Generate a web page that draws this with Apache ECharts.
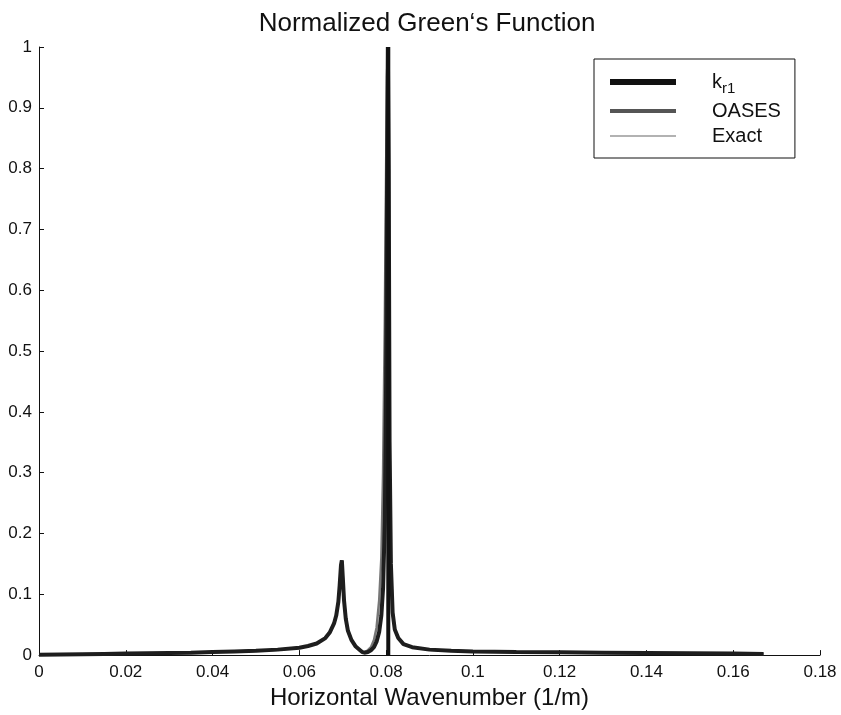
<!DOCTYPE html>
<html>
<head>
<meta charset="utf-8">
<script src="https://cdn.jsdelivr.net/npm/echarts@6/dist/echarts.min.js"></script>
<style>html,body{margin:0;padding:0;background:#fff}#c{width:841px;height:715px}</style>
</head>
<body>
<div id="c"></div>
<script>
// Horizontal wavenumber samples (1/m)
const wavenumber = [0, 0.005, 0.01, 0.015, 0.02, 0.025, 0.03, 0.035, 0.04, 0.045, 0.05, 0.055, 0.06, 0.062, 0.064, 0.066, 0.067, 0.068, 0.0685, 0.069, 0.0693, 0.0696, 0.0698, 0.0700, 0.0703, 0.0707, 0.0712, 0.072, 0.073, 0.074, 0.0745, 0.075, 0.0758, 0.0765, 0.0772, 0.0778, 0.0784, 0.0789, 0.0793, 0.0797, 0.0800, 0.0802, 0.0804, 0.0805, 0.0806, 0.0808, 0.0811, 0.0815, 0.082, 0.0828, 0.084, 0.086, 0.09, 0.095, 0.1, 0.11, 0.12, 0.13, 0.14, 0.15, 0.16, 0.167];
const oasesValues = [0.0005, 0.001, 0.0015, 0.002, 0.0025, 0.003, 0.0035, 0.004, 0.005, 0.006, 0.007, 0.009, 0.012, 0.015, 0.019, 0.028, 0.037, 0.052, 0.065, 0.088, 0.115, 0.148, 0.156, 0.13, 0.09, 0.06, 0.04, 0.025, 0.014, 0.008, 0.005, 0.004, 0.005, 0.008, 0.013, 0.022, 0.038, 0.065, 0.11, 0.22, 0.45, 0.75, 1.0, 1.0, 0.8, 0.35, 0.15, 0.07, 0.042, 0.028, 0.018, 0.013, 0.009, 0.007, 0.006, 0.005, 0.0045, 0.004, 0.0035, 0.003, 0.0025, 0.002];
const exactValues = [0.0005, 0.001, 0.0015, 0.002, 0.0025, 0.003, 0.0035, 0.004, 0.005, 0.006, 0.007, 0.009, 0.012, 0.015, 0.019, 0.028, 0.037, 0.052, 0.065, 0.088, 0.115, 0.148, 0.156, 0.13, 0.09, 0.06, 0.04, 0.025, 0.014, 0.008, 0.005, 0.005, 0.008, 0.013, 0.025, 0.045, 0.09, 0.16, 0.3, 0.55, 0.8, 0.95, 1.0, 1.0, 0.8, 0.35, 0.15, 0.07, 0.042, 0.028, 0.018, 0.013, 0.009, 0.007, 0.006, 0.005, 0.0045, 0.004, 0.0035, 0.003, 0.0025, 0.002];
// k_r1 vertical marker
const kr1X = [0.0805, 0.0805];
const kr1Y = [0, 1];
const xTicks = [0, 0.02, 0.04, 0.06, 0.08, 0.1, 0.12, 0.14, 0.16, 0.18];
const yTicks = [0, 0.1, 0.2, 0.3, 0.4, 0.5, 0.6, 0.7, 0.8, 0.9, 1];

const FONT = 'Liberation Sans, Arial, Helvetica, sans-serif';
const zip = (a, b) => a.map((v, i) => [v, b[i]]);
const fmt = v => String(+(+v).toFixed(3));

const chart = echarts.init(document.getElementById('c'), null, {renderer: 'canvas'});
chart.setOption({
  animation: false,
  backgroundColor: '#fff',
  title: {
    text: 'Normalized Green\u2018s Function',
    left: 422, top: 6, textAlign: 'center',
    textStyle: {fontFamily: FONT, fontSize: 26, fontWeight: 'normal', color: '#111'}
  },
  grid: {left: 39, right: 21, top: 47, bottom: 55, containLabel: false},
  legend: {
    orient: 'vertical',
    left: 594, top: 59,
    padding: [13, 14, 12, 13],
    borderColor: '#111', borderWidth: 1, backgroundColor: '#fff',
    itemWidth: 66, itemHeight: 20, itemGap: 5,
    textStyle: {fontFamily: FONT, fontSize: 20, color: '#111', width: 84, padding: [0, 0, 0, 31],
      rich: {sub: {fontFamily: FONT, fontSize: 15, color: '#111', padding: [13, 0, 0, 0]}}},
    formatter: name => name === 'k_r1' ? 'k{sub|r1}' : name,
    data: [
      {name: 'k_r1', itemStyle: {opacity: 0}, lineStyle: {color: '#111', width: 6}},
      {name: 'OASES', itemStyle: {opacity: 0}, lineStyle: {color: '#555', width: 4}},
      {name: 'Exact', itemStyle: {opacity: 0}, lineStyle: {color: '#999', width: 1.5}}
    ]
  },
  xAxis: {
    type: 'value', min: 0, max: 0.18, interval: 0.02,
    axisLine: {show: true, onZero: false, lineStyle: {color: '#111', width: 1}},
    axisTick: {show: true, inside: true, length: 5, lineStyle: {color: '#111'}},
    splitLine: {show: false},
    axisLabel: {fontFamily: FONT, fontSize: 17, color: '#111', margin: 9, formatter: v => fmt(v)},
    name: 'Horizontal Wavenumber (1/m)', nameLocation: 'middle', nameGap: 30,
    nameTextStyle: {fontFamily: FONT, fontSize: 24, color: '#111'}
  },
  yAxis: {
    type: 'value', min: 0, max: 1, interval: 0.1,
    axisLine: {show: true, lineStyle: {color: '#111', width: 1}},
    axisTick: {show: true, inside: true, length: 5, lineStyle: {color: '#111'}},
    splitLine: {show: false},
    axisLabel: {fontFamily: FONT, fontSize: 17, color: '#111', margin: 7, formatter: v => fmt(v)}
  },
  series: [
    {name: 'Exact', type: 'line', data: zip(wavenumber, exactValues), showSymbol: false, symbol: 'none',
      lineStyle: {color: '#777', width: 2.5}, z: 2, clip: true},
    {name: 'OASES', type: 'line', data: zip(wavenumber, oasesValues), showSymbol: false, symbol: 'none',
      lineStyle: {color: '#1e1e1e', width: 4}, z: 3, clip: true},
    {name: 'k_r1', type: 'line', data: zip(kr1X, kr1Y), showSymbol: false, symbol: 'none',
      lineStyle: {color: '#111', width: 4}, z: 4, clip: true}
  ]
});
</script>
</body>
</html>
